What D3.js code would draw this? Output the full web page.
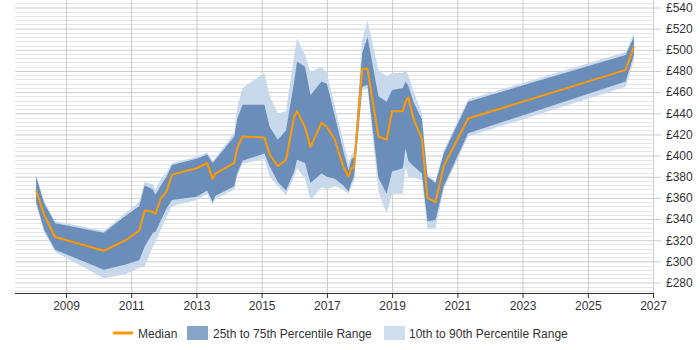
<!DOCTYPE html>
<html lang="en">
<head>
<meta charset="UTF-8">
<title>Salary trend</title>
<script src="https://d3js.org/d3.v7.min.js"></script>
<style>
  body { margin: 0; background: #fff; }
  svg text { font-family: "Liberation Sans", Arial, sans-serif; fill: #333; }
</style>
</head>
<body>
<svg id="chart" width="700" height="350"></svg>
<script>
// data
var dates = ["2008-02","2008-05","2008-09","2010-03","2010-11","2011-04","2011-06","2011-09","2011-10","2011-12",
             "2012-02","2012-04","2013-01","2013-05","2013-07","2013-08","2014-03","2014-04","2014-06","2015-02",
             "2015-04","2015-07","2015-10","2016-01","2016-02","2016-05","2016-07","2016-11","2017-01","2017-04",
             "2017-07","2017-09","2017-10","2017-11","2018-02","2018-04","2018-08","2018-11","2019-01","2019-05",
             "2019-06","2019-07","2019-09","2019-12","2020-02","2020-05","2020-08","2021-05","2026-03","2026-06"];
var median = [367,344,323,310,320,329,348,347,345,360, 366,382,388,393,378,383,393,407,418,417,
              401,390,396,437,442,427,408,431,427,415, 390,380,388,389,482,482,418,415,442,442,
              451,455,434,416,360,356,390,435,481,503];
var q25 = [356,330,311,292,297,301,314,327,328,339, 350,358,361,367,356,362,371,383,395,402,
           390,375,367,385,396,393,374,383,380,378, 372,366,374,380,465,467,379,364,385,388,
           407,395,390,383,338,339,371,421,470,495];
var q75 = [380,355,336,327,343,352,372,368,363,372, 380,391,397,401,393,396,418,434,448,448,
           427,415,424,470,489,484,457,470,468,437, 405,386,396,399,497,512,456,451,462,464,
           470,466,450,434,380,374,402,451,495,512];
var p10 = [354,327,309,284,288,294,295,314,318,330, 342,352,358,364,353,359,368,380,392,397,
           380,371,363,380,388,378,358,370,368,371, 368,364,370,376,462,463,366,345,364,364,
           390,380,379,377,330,331,368,418,465,490];
var p90 = [382,357,338,329,346,356,375,373,368,378, 384,393,399,403,395,398,422,445,464,478,
           456,440,442,495,511,495,479,484,478,446, 415,393,400,404,510,528,481,475,478,478,
           481,476,460,440,382,376,405,453,498,516];
var yearTicks = [2009,2011,2013,2015,2017,2019,2021,2023,2025,2027];
var payTicks = [280,300,320,340,360,380,400,420,440,460,480,500,520,540];

var parse = d3.timeParse("%Y-%m");
var data = dates.map(function(d, i) {
    return { date: parse(d), med: median[i], q25: q25[i], q75: q75[i], p10: p10[i], p90: p90[i] };
});

var left = 15, right = 653, bottom = 293;
var svg = d3.select("#chart");

var x = d3.scaleTime()
    .domain([new Date(2009, 0, 1), new Date(2027, 0, 1)])
    .range([66, right]);
var y = d3.scaleLinear().domain([280, 540]).range([282.5, 7.5]);

// minor gridlines every £4
var minor = d3.range(272, 547, 4).filter(function(v) { return v % 20 !== 0; });
svg.append("g").selectAll("line").data(minor).enter().append("line")
    .attr("x1", left).attr("x2", right)
    .attr("y1", function(d) { return Math.round(y(d)) + 0.5; })
    .attr("y2", function(d) { return Math.round(y(d)) + 0.5; })
    .attr("stroke", "#e6e6e6");

// major gridlines + y labels
var yAxis = d3.axisRight(y).tickValues(payTicks).tickSize(8).tickPadding(5)
    .tickFormat(function(d) { return "£" + d; });
var gy = svg.append("g").attr("transform", "translate(" + right + ",0)").call(yAxis);
gy.select(".domain").remove();
gy.selectAll("line").attr("stroke", "#ccc").attr("x1", left - right);
gy.selectAll("text").style("font-size", "12px");

// vertical gridlines
var xGrid = d3.axisBottom(x).tickValues(yearTicks.map(function(t) { return new Date(t, 0, 1); }))
    .tickSize(-bottom).tickFormat("");
var gxg = svg.append("g").attr("transform", "translate(0," + bottom + ")").call(xGrid);
gxg.select(".domain").remove();
gxg.selectAll("line").attr("stroke", "#ccc");

// bands
var outer = d3.area().x(function(d) { return x(d.date); })
    .y0(function(d) { return y(d.p10); }).y1(function(d) { return y(d.p90); });
var inner = d3.area().x(function(d) { return x(d.date); })
    .y0(function(d) { return y(d.q25); }).y1(function(d) { return y(d.q75); });
var line = d3.line().x(function(d) { return x(d.date); }).y(function(d) { return y(d.med); });

svg.append("path").datum(data).attr("d", outer).attr("fill", "#c8d9ec");
svg.append("path").datum(data).attr("d", inner).attr("fill", "#6a8db9");
svg.append("path").datum(data).attr("d", line)
    .attr("fill", "none").attr("stroke", "#f90").attr("stroke-width", 2).attr("stroke-linejoin", "round");

// x axis
var xAxis = d3.axisBottom(x).tickValues(yearTicks.map(function(t) { return new Date(t, 0, 1); }))
    .tickSize(5).tickPadding(3).tickFormat(d3.timeFormat("%Y"));
var gx = svg.append("g").attr("transform", "translate(0," + bottom + ")").call(xAxis);
gx.select(".domain").remove();
gx.selectAll("line").attr("stroke", "#333");
gx.selectAll("text").style("font-size", "12px");
svg.append("line").attr("x1", left).attr("x2", right + 1)
    .attr("y1", bottom + 0.5).attr("y2", bottom + 0.5).attr("stroke", "#333");

// legend
var legend = svg.append("g").attr("transform", "translate(0,333)");
legend.append("line").attr("x1", 113).attr("x2", 133).attr("y1", 0).attr("y2", 0)
    .attr("stroke", "#f90").attr("stroke-width", 3);
legend.append("text").attr("x", 138).attr("y", 4.5).style("font-size", "12px").text("Median");
legend.append("rect").attr("x", 187).attr("y", -7).attr("width", 21).attr("height", 14).attr("fill", "#87a3c5");
legend.append("text").attr("x", 213).attr("y", 4.5).style("font-size", "12px").text("25th to 75th Percentile Range");
legend.append("rect").attr("x", 384).attr("y", -7).attr("width", 21).attr("height", 14).attr("fill", "#d0dff0");
legend.append("text").attr("x", 409).attr("y", 4.5).style("font-size", "12px").text("10th to 90th Percentile Range");
</script>
</body>
</html>
